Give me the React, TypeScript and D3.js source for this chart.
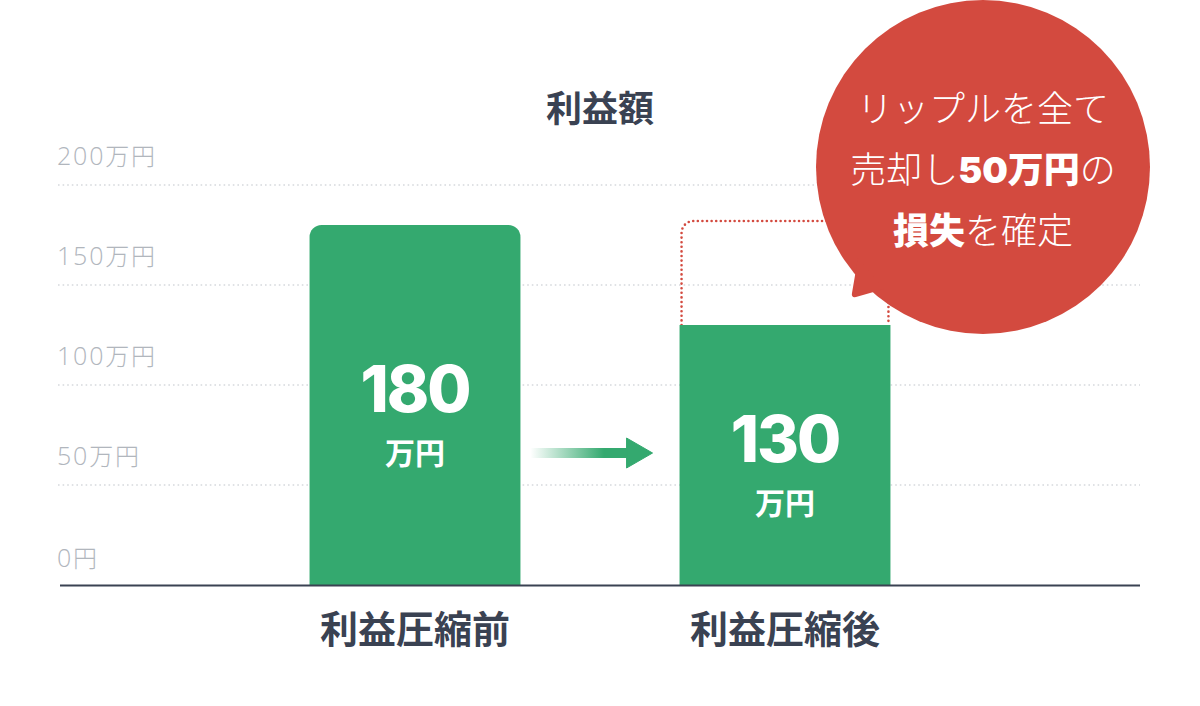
import React from "react";
import * as d3 from "d3";

const categories = ["利益圧縮前", "利益圧縮後"];
const values = [180, 130];
const yTicks = [0, 50, 100, 150, 200];
const tickLabels = ["0円", "50万円", "100万円", "150万円", "200万円"];
const unitLabel = "万円";
const title = "利益額";
const bubbleLines: { text: string; bold: boolean }[][] = [
  [{ text: "リップルを全て", bold: false }],
  [
    { text: "売却し", bold: false },
    { text: "50万円", bold: true },
    { text: "の", bold: false },
  ],
  [
    { text: "損失", bold: true },
    { text: "を確定", bold: false },
  ],
];

const W = 1200;
const H = 706;
const GREEN = "#34a96f";
const RED = "#d34a3f";
const DARK = "#3a4252";
const GRAY = "#b1b6bd";
const JP = "'Noto Sans CJK JP', 'Noto Sans', sans-serif";
const NUM = "Inter, Roboto, 'Noto Sans', sans-serif";
const THIN = "'Open Sans', 'Noto Sans CJK JP', sans-serif";

// split a string into digit / non-digit runs
const splitDigits = (s: string) => s.match(/\d+|\D+/g) || [s];

export default function App() {
  const x = d3
    .scaleBand<string>()
    .domain(categories)
    .range([230, 970])
    .paddingInner(0.43)
    .paddingOuter(0.215);
  const y = d3.scaleLinear().domain([0, 200]).range([585, 185]);

  const bw = x.bandwidth();
  const radii = [12, 0];

  const barPath = (i: number) => {
    const x0 = x(categories[i])!;
    const x1 = x0 + bw;
    const t = y(values[i]);
    const b = y(0);
    const r = radii[i];
    const p = d3.path();
    p.moveTo(x0, b);
    p.lineTo(x0, t + r);
    if (r) p.arcTo(x0, t, x0 + r, t, r);
    p.lineTo(x1 - r, t);
    if (r) p.arcTo(x1, t, x1, t + r, r);
    p.lineTo(x1, b);
    p.closePath();
    return p.toString();
  };

  // dotted outline showing the former level above bar 2
  const bx0 = x(categories[1])! + 2;
  const bx1 = x(categories[1])! + bw - 2;
  const topY = y(values[0]) - 4;
  const rr = 12;
  const outline = d3.path();
  outline.moveTo(bx0, y(values[1]));
  outline.lineTo(bx0, topY + rr);
  outline.arcTo(bx0, topY, bx0 + rr, topY, rr);
  outline.lineTo(bx1 - rr, topY);
  outline.arcTo(bx1, topY, bx1, topY + rr, rr);
  outline.lineTo(bx1, y(values[1]));

  const cx = 983;
  const cy = 167;
  const cr = 167;

  const arrowY = 453;
  const arrowX0 = x(categories[0])! + bw + 10;
  const arrowX1 = x(categories[1])! - 53;

  return (
    <svg
      width={W}
      height={H}
      viewBox={`0 0 ${W} ${H}`}
      style={{ position: "absolute", left: 0, top: 0, background: "#fff" }}
    >
      <defs>
        <linearGradient id="arrowGrad" x1="0" x2="1" y1="0" y2="0">
          <stop offset="0" stopColor={GREEN} stopOpacity={0} />
          <stop offset="0.75" stopColor={GREEN} stopOpacity={1} />
          <stop offset="1" stopColor={GREEN} stopOpacity={1} />
        </linearGradient>
      </defs>

      {/* gridlines */}
      {yTicks
        .filter((t) => t > 0)
        .map((t) => (
          <line
            key={t}
            x1={58}
            x2={1140}
            y1={y(t)}
            y2={y(t)}
            stroke="#d6d9dd"
            strokeWidth={1.6}
            strokeDasharray="1.6 3"
          />
        ))}
      {/* tick labels */}
      {yTicks.map((t, i) => (
        <text
          key={t}
          x={57}
          y={y(t) - (t === 0 ? 18 : 20)}
          fill={GRAY}
          fontFamily={JP}
          fontWeight={300}
          fontSize={24}
          letterSpacing={1.8}
        >
          {splitDigits(tickLabels[i]).map((s, si) => (
            <tspan key={si} fontFamily={/\d/.test(s) ? THIN : JP} fontSize={/\d/.test(s) ? 25 : 24}>
              {s}
            </tspan>
          ))}
        </text>
      ))}

      {/* title */}
      <text
        x={600}
        y={122}
        textAnchor="middle"
        fill={DARK}
        fontFamily={JP}
        fontWeight={700}
        fontSize={36}
      >
        {title}
      </text>

      {/* dotted outline */}
      <path
        d={outline.toString()}
        fill="none"
        stroke={RED}
        strokeWidth={2.6}
        strokeLinecap="round"
        strokeDasharray="0 4.6"
      />

      {/* bars */}
      {values.map((v, i) => (
        <path key={categories[i]} d={barPath(i)} fill={GREEN} />
      ))}

      {/* value labels */}
      {values.map((v, i) => {
        const cxb = x(categories[i])! + bw / 2;
        const mid = (y(v) + y(0)) / 2 + 7;
        return (
          <g key={"lab" + i} fill="#fff" textAnchor="middle">
            <text
              x={cxb}
              y={mid}
              fontFamily={NUM}
              fontWeight={800}
              fontSize={64}
              letterSpacing={-2}
            >
              {v}
            </text>
            <text
              x={cxb}
              y={mid + 52}
              fontFamily={JP}
              fontWeight={700}
              fontSize={30}
            >
              {unitLabel}
            </text>
          </g>
        );
      })}

      {/* arrow */}
      <rect
        x={arrowX0}
        y={arrowY - 5}
        width={arrowX1 - arrowX0 + 2}
        height={10}
        fill="url(#arrowGrad)"
      />
      <path
        d={`M${arrowX1},${arrowY - 15} L${arrowX1 + 26},${arrowY} L${arrowX1},${arrowY + 15} Z`}
        fill={GREEN}
        strokeLinejoin="round"
        stroke={GREEN}
        strokeWidth={1}
      />

      {/* baseline */}
      <line x1={60} x2={1140} y1={y(0) + 0.5} y2={y(0) + 0.5} stroke={DARK} strokeWidth={2.2} />

      {/* category labels */}
      {categories.map((c) => (
        <text
          key={c}
          x={x(c)! + bw / 2}
          y={643}
          textAnchor="middle"
          fill={DARK}
          fontFamily={JP}
          fontWeight={700}
          fontSize={38}
        >
          {c}
        </text>
      ))}

      {/* speech bubble */}
      <circle cx={cx} cy={cy} r={cr} fill={RED} />
      <path d="M858,258 L852,293 Q851,298 856,297 L884,289 Z" fill={RED} />
      {bubbleLines.map((line, li) => (
        <text
          key={li}
          x={cx}
          y={122 + li * 61}
          textAnchor="middle"
          fill="#fff"
          fontFamily={JP}
          fontSize={36}
        >
          {line.map((s, si) =>
            splitDigits(s.text).map((part, pi) => (
              <tspan
                key={si + "-" + pi}
                fontWeight={s.bold ? 900 : 300}
                fontFamily={s.bold && /\d/.test(part) ? NUM : JP}
              >
                {part}
              </tspan>
            ))
          )}
        </text>
      ))}
    </svg>
  );
}
